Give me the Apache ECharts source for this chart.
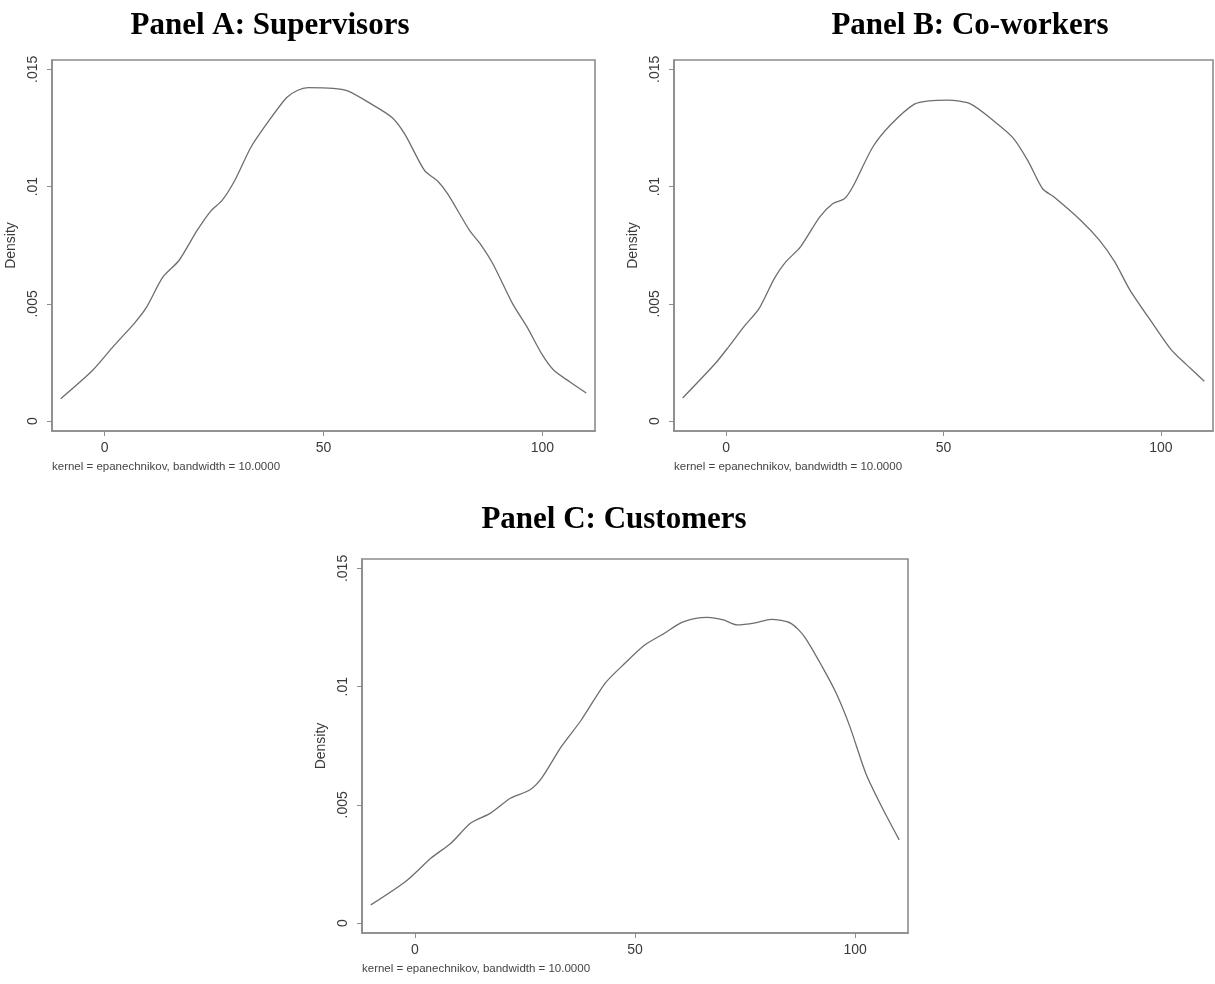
<!DOCTYPE html>
<html>
<head>
<meta charset="utf-8">
<script src="https://cdn.jsdelivr.net/npm/echarts@6/dist/echarts.min.js"></script>
<style>
html,body{margin:0;padding:0;background:#fff;}
#chart{width:1215px;height:984px;}
</style>
</head>
<body>
<div id="chart"></div>
<script>
// Panel titles
var panelTitles = ['Panel A: Supervisors', 'Panel B: Co-workers', 'Panel C: Customers'];
var captionText = 'kernel = epanechnikov, bandwidth = 10.0000';
var yAxisName = 'Density';
var xTickValues = [0, 50, 100];
var yTickValues = [0, 0.005, 0.01, 0.015];

// Panel A: Supervisors
var aX = [-10, -2.7, 2.2, 6.7, 9.6, 13.3, 17, 21.1, 24.3, 26.8, 29.7, 33.4, 37.5, 41.6, 44, 46.5, 52.2, 55.5, 60.4, 65.7, 68.6, 73.1, 76, 78.4, 83.4, 85.8, 88.7, 93.2, 96.5, 99.8, 102.6, 106.3, 110];
var aY = [0.00096, 0.00217, 0.00323, 0.00415, 0.00486, 0.00614, 0.00685, 0.00812, 0.00897, 0.0094, 0.01025, 0.01167, 0.0128, 0.0138, 0.0141, 0.01422, 0.01419, 0.01408, 0.01358, 0.01294, 0.01223, 0.01068, 0.01025, 0.00968, 0.00812, 0.00756, 0.0067, 0.005, 0.00401, 0.00288, 0.00217, 0.00167, 0.0012];

// Panel B: Co-workers
var bX = [-10, -2.4, 0.6, 4.1, 7.6, 11.1, 13.7, 17.1, 21.5, 24.5, 27.2, 29.3, 33.7, 38, 43.3, 46.7, 51, 56.3, 61.5, 65.9, 69.4, 72.8, 75.5, 81.6, 85.9, 89.4, 92.9, 98.1, 102.4, 105.9, 110];
var bY = [0.00099, 0.00248, 0.00318, 0.00403, 0.00481, 0.00609, 0.00679, 0.00743, 0.0087, 0.00927, 0.00948, 0.01005, 0.01168, 0.01267, 0.01352, 0.01366, 0.01369, 0.01352, 0.01281, 0.0121, 0.01111, 0.00991, 0.00955, 0.00856, 0.00771, 0.00679, 0.00559, 0.00417, 0.00304, 0.00241, 0.0017];

// Panel C: Customers
var cX = [-10, -2.1, 3.7, 8.2, 12.7, 17.2, 21.7, 26.1, 28.8, 33.3, 37.8, 43.2, 47.7, 52.2, 56.6, 60.2, 63.8, 66.5, 70.1, 73.2, 77.3, 80.9, 85.4, 88.5, 92.5, 95.7, 98.8, 102.4, 106, 110];
var cY = [0.00077, 0.00176, 0.00275, 0.00338, 0.00423, 0.00465, 0.00528, 0.00563, 0.00613, 0.00747, 0.00859, 0.01014, 0.01099, 0.01176, 0.01225, 0.01268, 0.01289, 0.01293, 0.01282, 0.01261, 0.0127, 0.01285, 0.01268, 0.01211, 0.01085, 0.00972, 0.00831, 0.00634, 0.00493, 0.00352];

function pairs(xs, ys) { return xs.map(function (x, i) { return [x, ys[i]]; }); }

var grids = [
  {left: 52, top: 60, width: 543, height: 371},
  {left: 674, top: 60, width: 539, height: 371},
  {left: 362, top: 559, width: 546, height: 374}
];
var titlePos = [{x: 265, y: 5}, {x: 965, y: 5}, {x: 609, y: 499}];
var series = [pairs(aX, aY), pairs(bX, bY), pairs(cX, cY)];

var frameColor = '#8c8c8c';
var textColor = '#3a3a3a';

var option = {
  backgroundColor: '#ffffff',
  animation: false,
  title: panelTitles.map(function (t, i) {
    return {
      text: t, left: titlePos[i].x, top: titlePos[i].y, textAlign: 'center',
      textStyle: {fontFamily: 'Liberation Serif', fontWeight: 'bold', fontSize: 31, color: '#000', lineHeight: 32}
    };
  }),
  grid: grids.map(function (g) {
    return {left: g.left, top: g.top, width: g.width, height: g.height, show: true,
      borderColor: frameColor, borderWidth: 1.6, backgroundColor: '#fff', containLabel: false};
  }),
  xAxis: grids.map(function (g, i) {
    return {
      type: 'value', gridIndex: i, min: -12, max: 112,
      axisLine: {show: true, onZero: false, lineStyle: {color: frameColor, width: 1.6}},
      axisTick: {show: true, length: 5, customValues: xTickValues, lineStyle: {color: frameColor}},
      axisLabel: {customValues: xTickValues, margin: 10, fontFamily: 'Liberation Sans', fontSize: 14, color: textColor},
      splitLine: {show: false},
      name: captionText, nameLocation: 'start', nameGap: 0,
      nameTextStyle: {fontFamily: 'Liberation Sans', fontSize: 11.5, color: '#444', align: 'left', verticalAlign: 'top', padding: [30, 0, 0, 0]}
    };
  }),
  yAxis: grids.map(function (g, i) {
    return {
      type: 'value', gridIndex: i, min: -0.00042, max: 0.0154,
      axisLine: {show: true, onZero: false, lineStyle: {color: frameColor, width: 1.6}},
      axisTick: {show: true, length: 5, customValues: yTickValues, lineStyle: {color: frameColor}},
      axisLabel: {customValues: yTickValues, rotate: 90, margin: 12, fontFamily: 'Liberation Sans', fontSize: 14, color: textColor,
        formatter: function (v) { return v === 0 ? '0' : String(v).replace(/^0/, ''); }},
      splitLine: {show: false},
      name: yAxisName, nameLocation: 'middle', nameGap: 34, nameRotate: 90,
      nameTextStyle: {fontFamily: 'Liberation Sans', fontSize: 14, color: textColor}
    };
  }),
  series: series.map(function (d, i) {
    return {type: 'line', xAxisIndex: i, yAxisIndex: i, data: d, showSymbol: false, symbol: 'none',
      smooth: 0.25, lineStyle: {color: '#6e6e6e', width: 1.3}};
  })
};

var chart = echarts.init(document.getElementById('chart'), null, {renderer: 'canvas'});
chart.setOption(option);
</script>
</body>
</html>
